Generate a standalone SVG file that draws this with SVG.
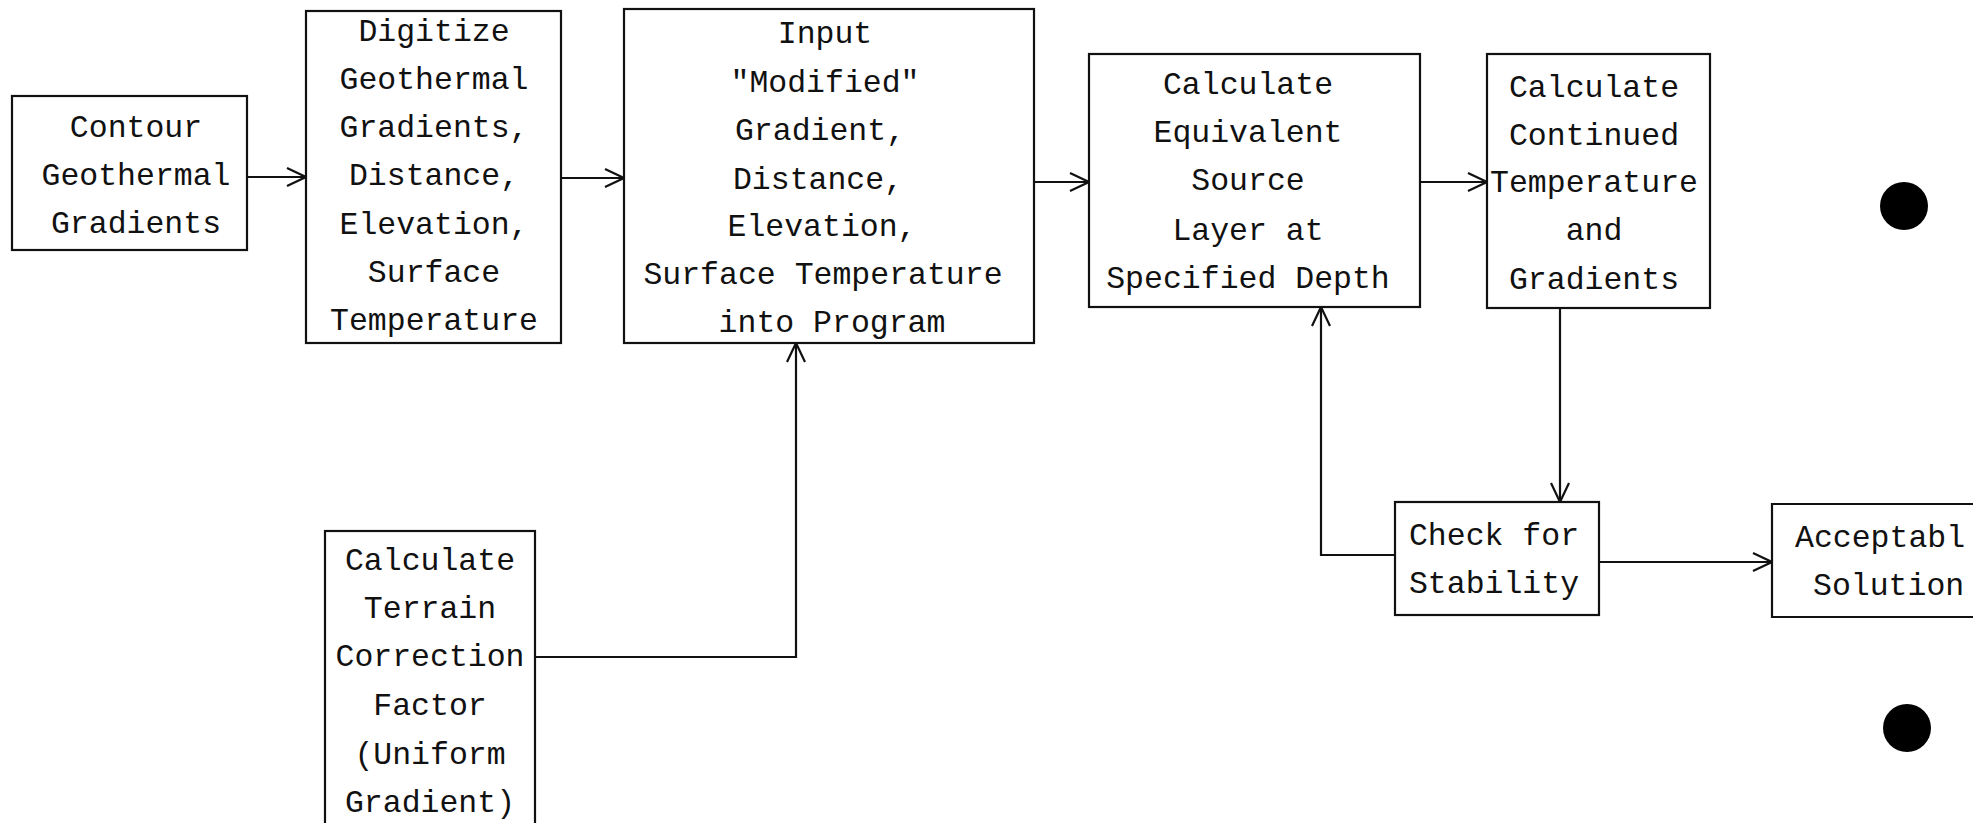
<svg xmlns="http://www.w3.org/2000/svg" width="1973" height="823" viewBox="0 0 1973 823">
<style>
.box{fill:none;stroke:#111;stroke-width:2.2}
.t{font-family:"Liberation Mono","Courier New",monospace;font-size:31.5px;fill:#111;text-anchor:middle}
.ts{font-family:"Liberation Mono","Courier New",monospace;font-size:31.5px;fill:#111;text-anchor:start}
.c{fill:none;stroke:#111;stroke-width:2.2}
</style>
<defs>
<marker id="ah" viewBox="0 0 20 20" refX="20" refY="10" markerWidth="20" markerHeight="20" markerUnits="userSpaceOnUse" orient="auto">
<path d="M1,1 L20,10 L1,19" fill="none" stroke="#111" stroke-width="2.2"/>
</marker>
</defs>
<rect width="1973" height="823" fill="#fff"/>

<g id="contour">
<rect class="box" x="12" y="96" width="235" height="154"/>
<text class="t" x="136" y="137">Contour</text>
<text class="t" x="136" y="185">Geothermal</text>
<text class="t" x="136" y="233">Gradients</text>
</g>

<g id="digitize">
<rect class="box" x="306" y="11" width="255" height="332"/>
<text class="t" x="434" y="41">Digitize</text>
<text class="t" x="434" y="89">Geothermal</text>
<text class="t" x="434" y="137">Gradients,</text>
<text class="t" x="434" y="185">Distance,</text>
<text class="t" x="434" y="234">Elevation,</text>
<text class="t" x="434" y="282">Surface</text>
<text class="t" x="434" y="330">Temperature</text>
</g>

<g id="input">
<rect class="box" x="624" y="9" width="410" height="334"/>
<text class="t" x="825" y="43">Input</text>
<text class="t" x="825" y="92">"Modified"</text>
<text class="t" x="820" y="140">Gradient,</text>
<text class="t" x="818" y="189">Distance,</text>
<text class="t" x="822" y="236">Elevation,</text>
<text class="t" x="823" y="284">Surface Temperature</text>
<text class="t" x="832" y="332">into Program</text>
</g>

<g id="equivalent">
<rect class="box" x="1089" y="54" width="331" height="253"/>
<text class="t" x="1248" y="94">Calculate</text>
<text class="t" x="1248" y="142">Equivalent</text>
<text class="t" x="1248" y="190">Source</text>
<text class="t" x="1248" y="240">Layer at</text>
<text class="t" x="1248" y="288">Specified Depth</text>
</g>

<g id="continued">
<rect class="box" x="1487" y="54" width="223" height="254"/>
<text class="t" x="1594" y="97">Calculate</text>
<text class="t" x="1594" y="145">Continued</text>
<text class="t" x="1594" y="192">Temperature</text>
<text class="t" x="1594" y="240">and</text>
<text class="t" x="1594" y="289">Gradients</text>
</g>

<g id="terrain">
<rect class="box" x="325" y="531" width="210" height="300"/>
<text class="t" x="430" y="570">Calculate</text>
<text class="t" x="430" y="618">Terrain</text>
<text class="t" x="430" y="666">Correction</text>
<text class="t" x="430" y="715">Factor</text>
<text class="t" x="430" y="764">(Uniform</text>
<text class="t" x="430" y="812">Gradient)</text>
</g>

<g id="stability">
<rect class="box" x="1395" y="502" width="204" height="113"/>
<text class="t" x="1494" y="545">Check for</text>
<text class="t" x="1494" y="593">Stability</text>
</g>

<g id="acceptable">
<path class="box" d="M1990,504 H1772 V617 H1990"/>
<text class="ts" x="1795" y="547">Acceptabl</text>
<text class="ts" x="1813" y="595">Solution</text>
</g>

<g id="connectors">
<line class="c" x1="247" y1="177" x2="306" y2="177" marker-end="url(#ah)"/>
<line class="c" x1="561" y1="178" x2="624" y2="178" marker-end="url(#ah)"/>
<line class="c" x1="1034" y1="182" x2="1089" y2="182" marker-end="url(#ah)"/>
<line class="c" x1="1420" y1="182" x2="1487" y2="182" marker-end="url(#ah)"/>
<polyline class="c" points="535,657 796,657 796,343" marker-end="url(#ah)"/>
<line class="c" x1="1560" y1="308" x2="1560" y2="502" marker-end="url(#ah)"/>
<polyline class="c" points="1395,555 1321,555 1321,307" marker-end="url(#ah)"/>
<line class="c" x1="1599" y1="562" x2="1772" y2="562" marker-end="url(#ah)"/>
</g>

<g id="dots">
<circle cx="1904" cy="206" r="24" fill="#000"/>
<circle cx="1907" cy="728" r="24" fill="#000"/>
</g>
</svg>
